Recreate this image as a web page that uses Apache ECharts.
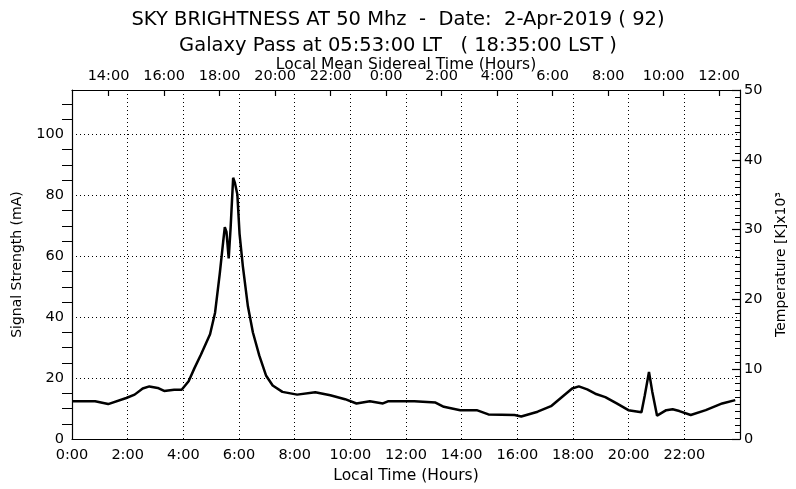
<!DOCTYPE html>
<html>
<head>
<meta charset="utf-8">
<script src="https://cdn.jsdelivr.net/npm/echarts@6/dist/echarts.min.js"></script>
<style>
html,body{margin:0;padding:0;background:#fff;}
#chart{width:796px;height:489px;}
</style>
</head>
<body>
<div id="chart"></div>
<script>
// Local time (hours) of each sample
const hours = [0, 0.83, 1.30, 1.95, 2.25, 2.54, 2.78, 3.08, 3.31, 3.67, 3.94, 4.19, 4.40, 4.63, 4.96, 5.14, 5.31, 5.43, 5.49, 5.55, 5.63, 5.70, 5.79, 5.85, 5.94, 6.02, 6.14, 6.32, 6.50, 6.73, 6.97, 7.21, 7.56, 8.09, 8.74, 9.28, 9.81, 10.22, 10.70, 11.17, 11.35, 12.30, 13.06, 13.36, 13.95, 14.54, 14.96, 15.90, 16.14, 16.73, 17.21, 17.68, 17.97, 18.21, 18.51, 18.80, 19.16, 19.57, 19.99, 20.46, 20.58, 20.73, 20.85, 21.02, 21.35, 21.58, 21.82, 22.23, 22.77, 23.36, 23.83];
// Signal strength (mA)
const signal = [12.4, 12.4, 11.5, 13.5, 14.6, 16.6, 17.3, 16.8, 15.8, 16.2, 16.2, 19.0, 23.3, 27.7, 34.4, 41.5, 54.4, 64.7, 69.6, 68.0, 59.3, 69.6, 85.8, 84.2, 80.4, 67.4, 56.6, 43.6, 35.0, 27.4, 20.9, 17.6, 15.5, 14.6, 15.4, 14.4, 13.1, 11.7, 12.4, 11.7, 12.4, 12.4, 12.0, 10.6, 9.5, 9.5, 8.1, 7.9, 7.4, 9.0, 10.8, 14.4, 16.6, 17.3, 16.3, 14.9, 13.8, 11.7, 9.5, 8.8, 14.4, 22.0, 15.5, 7.7, 9.5, 9.8, 9.2, 7.9, 9.5, 11.7, 12.8];

const localTicks = [0, 2, 4, 6, 8, 10, 12, 14, 16, 18, 20, 22];
const siderealTicks = [14, 16, 18, 20, 22, 24, 26, 28, 30, 32, 34, 36];
const signalTicks = [0, 20, 40, 60, 80, 100];
const tempTicks = [0, 10, 20, 30, 40, 50];
const titleLine1 = 'SKY BRIGHTNESS AT 50 Mhz  -  Date:  2-Apr-2019 ( 92)';
const titleLine2 = 'Galaxy Pass at 05:53:00 LT   ( 18:35:00 LST )';

// Local mean sidereal time at 0:00 local time (from 05:53 LT = 18:35 LST)
const siderealRate = 1.002738;
const lst0 = (18 + 35/60) - (5 + 53/60) * siderealRate;
const lstMax = lst0 + 24 * siderealRate;

const FONT = 'DejaVu Sans';
const dotted = {type: [1, 3], color: '#000', width: 1};

const chart = echarts.init(document.getElementById('chart'), null, {renderer: 'canvas'});
chart.setOption({
  animation: false,
  backgroundColor: '#fff',
  textStyle: {fontFamily: FONT, color: '#000'},
  title: [
    {text: titleLine1, left: 'center', top: 5, textStyle: {fontFamily: FONT, fontSize: 19.5, fontWeight: 'normal', color: '#000'}},
    {text: titleLine2, left: 'center', top: 31, textStyle: {fontFamily: FONT, fontSize: 19.5, fontWeight: 'normal', color: '#000'}}
  ],
  grid: {left: 72, right: 47, top: 90, bottom: 48, containLabel: false},
  xAxis: [
    {
      type: 'value', position: 'bottom', min: 0, max: 24, interval: 2,
      name: 'Local Time (Hours)', nameLocation: 'middle', nameGap: 25,
      nameTextStyle: {fontFamily: FONT, fontSize: 15.5, color: '#000'},
      axisLine: {show: true, lineStyle: {color: '#000', width: 1.2}},
      axisTick: {show: false},
      axisLabel: {
        customValues: localTicks,
        fontFamily: FONT, fontSize: 14.5, color: '#000', margin: 9,
        formatter: v => (v % 24) + ':00'
      },
      splitLine: {show: true, lineStyle: dotted}
    },
    {
      type: 'value', position: 'top', min: lst0, max: lstMax,
      splitNumber: 12, minInterval: 2, maxInterval: 2,
      name: 'Local Mean Sidereal Time (Hours)', nameLocation: 'middle', nameGap: 17,
      nameMoveOverlap: false,
      nameTextStyle: {fontFamily: FONT, fontSize: 15.5, color: '#000'},
      axisLine: {show: true, onZero: false, lineStyle: {color: '#000', width: 1.2}},
      axisTick: {show: true, inside: true, length: 6, customValues: siderealTicks, lineStyle: {color: '#000', width: 1.2}},
      axisLabel: {
        customValues: siderealTicks,
        fontFamily: FONT, fontSize: 14.5, color: '#000', margin: 6,
        formatter: v => (Math.round(v) % 24) + ':00'
      },
      splitLine: {show: false}
    }
  ],
  yAxis: [
    {
      type: 'value', position: 'left', min: 0, max: 114.6, interval: 20,
      name: 'Signal Strength (mA)', nameLocation: 'middle', nameGap: 48, nameRotate: 90,
      nameTextStyle: {fontFamily: FONT, fontSize: 14, color: '#000'},
      axisLine: {show: true, lineStyle: {color: '#000', width: 1.2}},
      axisTick: {show: false},
      minorTick: {show: true, splitNumber: 4, length: 10, lineStyle: {color: '#000', width: 1}},
      axisLabel: {
        customValues: signalTicks,
        fontFamily: FONT, fontSize: 14.5, color: '#000', margin: 8,
        formatter: v => String(v)
      },
      splitLine: {show: true, lineStyle: dotted}
    },
    {
      type: 'value', position: 'right', min: 0, max: 50, interval: 10,
      name: 'Temperature [K]x10³', nameLocation: 'middle', nameGap: 34, nameRotate: 90,
      nameTextStyle: {fontFamily: FONT, fontSize: 14, color: '#000'},
      axisLine: {show: true, lineStyle: {color: '#000', width: 1.2}},
      axisTick: {show: true, inside: true, length: 8, lineStyle: {color: '#000', width: 1.2}},
      minorTick: {show: true, splitNumber: 10, length: 5, lineStyle: {color: '#000', width: 1}},
      axisLabel: {
        customValues: tempTicks,
        fontFamily: FONT, fontSize: 14.5, color: '#000', margin: 4,
        formatter: v => String(v)
      },
      splitLine: {show: false}
    }
  ],
  series: [{
    type: 'line',
    xAxisIndex: 0, yAxisIndex: 0,
    data: hours.map((h, i) => [h, signal[i]]),
    showSymbol: false,
    symbol: 'none',
    smooth: false,
    lineStyle: {color: '#000', width: 2.5},
    z: 5
  }]
});
</script>
</body>
</html>
